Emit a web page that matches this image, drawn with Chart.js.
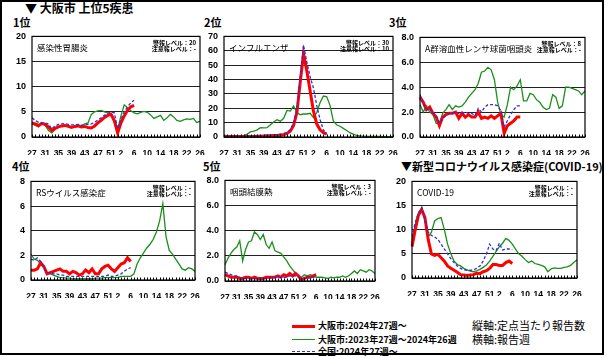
<!DOCTYPE html>
<html><head><meta charset="utf-8">
<script src="https://cdn.jsdelivr.net/npm/chart.js@4.4.1/dist/chart.umd.min.js"></script>
<style>
html,body{margin:0;padding:0;background:#fff;}
#wrap{position:relative;width:606px;height:356px;overflow:hidden;font-family:"Noto Sans CJK JP","Liberation Sans",sans-serif;}
#frame{position:absolute;left:0;top:0;width:600px;height:351px;border:2px solid #000;}
.t{position:absolute;white-space:nowrap;font-weight:bold;color:#000;line-height:1;}
.n{position:absolute;white-space:nowrap;color:#000;line-height:1;}
canvas{position:absolute;}
.lg{position:absolute;}
</style></head><body>
<div id="wrap">
<div id="frame"></div>
<div class="t" style="left:25px;top:2px;font-size:12px;">▼ 大阪市 上位5疾患</div>
<div class="t" style="left:13px;top:17px;font-size:11px;">1位</div>
<div class="t" style="left:204px;top:17px;font-size:11px;">2位</div>
<div class="t" style="left:389px;top:17px;font-size:11px;">3位</div>
<div class="t" style="left:12px;top:161px;font-size:11px;">4位</div>
<div class="t" style="left:203px;top:161px;font-size:11px;">5位</div>
<div class="t" style="left:401px;top:161px;font-size:11px;">▼新型コロナウイルス感染症(COVID-19)</div>

<div class="lg" style="left:292px;top:325px;width:23px;height:2.5px;background:#ff0000;"></div>
<div class="lg" style="left:292px;top:339px;width:23px;height:0;border-top:1.3px solid #1a8f1a;"></div>
<div class="lg" style="left:292px;top:351px;width:23px;height:0;border-top:1.3px dashed #2f2fd8;"></div>
<div class="t" style="left:318px;top:321px;font-size:9px;">大阪市:2024年27週～</div>
<div class="t" style="left:318px;top:335px;font-size:9px;">大阪市:2023年27週～2024年26週</div>
<div class="t" style="left:318px;top:347px;font-size:9px;">全国:2024年27週～</div>
<div class="n" style="left:472px;top:320px;font-size:11px;">縦軸:定点当たり報告数</div>
<div class="n" style="left:472px;top:334px;font-size:11px;">横軸:報告週</div>
</div>
<script>
const weeks = [27,28,29,30,31,32,33,34,35,36,37,38,39,40,41,42,43,44,45,46,47,48,49,50,51,52,
               1,2,3,4,5,6,7,8,9,10,11,12,13,14,15,16,17,18,19,20,21,22,23,24,25,26];
const shownWeeks = [27,31,35,39,43,47,51,2,6,10,14,18,22,26];

const gastroRed   = [2.8,2.6,2.3,2.7,2.5,2.0,1.3,1.7,2.0,2.2,2.3,2.1,1.9,2.1,2.2,2.0,2.1,1.9,1.8,2.2,2.8,3.3,3.9,4.3,4.5,3.2,0.8,2.8,4.2,5.3,6.0,6.3];
const gastroBlue  = [3.8,3.3,2.9,2.8,2.8,2.6,1.6,2.2,2.5,2.6,2.7,2.5,2.4,2.4,2.5,2.3,2.5,2.5,2.6,2.9,3.4,3.8,4.3,4.7,5.0,4.8,1.6,3.5,5.0,6.0,6.8,7.3];
const gastroGreen = [2.6,2.3,2.0,2.7,2.3,1.3,0.8,1.5,2.0,2.1,2.3,2.2,2.0,2.1,2.4,2.2,2.6,2.8,4.5,5.0,5.2,5.3,5.0,4.8,4.7,3.5,1.5,4.2,6.4,5.8,5.2,4.8,4.6,4.9,5.1,4.9,4.4,3.7,4.0,4.3,3.3,3.8,4.5,4.0,3.3,3.1,3.4,3.6,3.5,3.7,2.9,3.1];

const fluRed   = [0.5,0.4,0.4,0.4,0.3,0.3,0.3,0.3,0.4,0.4,0.5,0.6,0.7,0.8,0.9,1.0,1.1,1.3,1.5,2.5,4.0,8.0,17,38,58,46,32,18,9,5,3,2];
const fluBlue  = [0.7,0.6,0.6,0.6,0.6,0.6,0.6,0.6,0.7,0.7,0.8,0.9,1.0,1.1,1.2,1.4,1.6,2.0,2.4,3.2,5.0,10,20,42,64,52,42,34,22,12,5,2];
const fluGreen = [0.5,0.5,0.5,0.6,0.6,0.8,1.0,2.0,3.5,4.0,5.0,6.5,6.3,6.5,8.5,10.5,12.0,11.0,13.0,18.5,18.0,21.5,17.0,15.5,16.0,16.0,16.5,13.5,17.0,24.0,28.5,28.0,22.0,11.0,8.5,7.5,6.0,4.5,3.0,2.0,1.2,0.8,0.6,0.5,0.5,0.4,0.4,0.4,0.3,0.3,0.3,0.3];

const strepRed   = [3.2,2.8,2.2,2.4,1.9,1.6,0.9,1.6,1.8,1.9,1.9,2.0,1.5,1.9,1.6,1.8,1.6,1.6,2.0,1.5,1.6,1.5,1.7,1.5,1.7,1.9,0.3,0.9,1.1,1.3,1.6,1.6];
const strepBlue  = [3.4,2.6,2.2,2.3,1.9,1.7,1.1,1.5,1.7,1.9,1.9,2.0,1.9,1.9,2.0,1.9,1.9,1.7,2.3,2.0,2.4,2.6,2.6,2.6,2.5,2.1,0.8,1.3,1.8,2.2,2.5,2.5];
const strepGreen = [2.6,2.0,2.5,2.0,1.8,1.1,1.1,1.9,2.2,2.6,2.2,2.5,2.4,2.5,2.8,3.2,3.5,3.8,4.3,5.2,5.3,5.6,5.4,4.6,2.8,1.8,1.6,2.6,4.0,3.8,4.1,4.6,2.9,2.9,3.5,3.4,3.0,2.8,2.4,2.2,2.3,3.4,3.2,2.3,2.5,4.0,4.0,3.9,3.8,3.7,3.4,3.7];

const rsvRed   = [0.8,0.8,0.9,1.4,1.1,0.5,0.6,0.7,0.8,0.9,0.7,0.7,0.5,0.7,0.6,0.4,0.5,0.8,0.6,0.9,0.5,0.5,0.9,1.1,1.2,0.9,0.7,1.0,1.3,1.4,1.8,1.5];
const rsvBlue  = [1.7,1.6,1.8,1.5,1.0,0.6,0.6,0.5,0.5,0.4,0.4,0.3,0.3,0.3,0.3,0.3,0.3,0.3,0.3,0.3,0.3,0.3,0.3,0.3,0.4,0.3,0.3,0.4,0.5,0.7,0.9,1.0];
const rsvGreen = [2.1,1.7,1.6,1.3,1.0,0.6,0.5,0.4,0.3,0.2,0.2,0.15,0.15,0.1,0.1,0.1,0.1,0.1,0.1,0.1,0.15,0.15,0.15,0.2,0.2,0.2,0.2,0.2,0.3,0.3,0.3,0.3,0.5,1.3,1.8,2.2,2.6,2.9,3.3,3.9,4.8,6.2,3.5,2.4,2.1,1.7,1.3,0.9,0.8,1.0,0.9,0.7];

const pcfRed   = [0.5,0.4,0.3,0.3,0.3,0.2,0.2,0.3,0.3,0.2,0.3,0.2,0.2,0.2,0.3,0.3,0.3,0.3,0.4,0.3,0.5,0.4,0.6,0.4,0.6,0.4,0.1,0.2,0.3,0.3,0.4,0.5];
const pcfBlue  = [0.7,0.6,0.5,0.4,0.4,0.3,0.2,0.2,0.2,0.2,0.2,0.2,0.2,0.2,0.2,0.2,0.3,0.3,0.3,0.3,0.3,0.3,0.4,0.4,0.4,0.3,0.2,0.2,0.3,0.3,0.3,0.4];
const pcfGreen = [1.3,1.8,2.2,2.5,2.7,3.2,1.6,2.5,3.1,3.2,3.9,3.7,3.3,3.7,2.9,2.6,3.1,2.4,2.3,2.2,1.9,1.6,1.2,0.9,0.6,0.3,0.3,0.5,0.4,0.5,0.4,0.3,0.3,0.3,0.25,0.2,0.3,0.25,0.3,0.3,0.4,0.3,0.4,0.6,0.8,0.6,0.9,0.8,0.7,0.9,0.8,0.6];

const covRed   = [6.5,10,13.0,14.2,12.5,8.0,5.0,4.7,4.9,4.2,3.5,2.5,2.0,1.6,1.2,0.7,0.6,0.5,0.6,0.7,1.0,0.9,1.3,1.5,2.0,2.8,2.8,2.6,2.6,3.2,3.5,3.0];
const covBlue  = [8.5,11.5,13.5,14.6,12.0,9.5,8.8,8.5,8.0,7.0,6.0,5.0,4.0,3.2,2.5,2.0,1.7,1.6,1.6,1.7,2.0,2.5,3.5,5.0,7.0,6.0,5.7,7.2,5.8,6.0,6.0,5.9];
const covGreen = [8.0,11.0,13.5,14.5,12.0,8.5,9.5,11.8,12.3,12.5,10.0,7.0,5.0,3.5,2.8,2.5,2.0,1.7,1.4,1.3,1.5,1.8,2.2,2.7,3.5,4.5,5.5,6.5,7.2,8.2,7.8,7.0,6.0,5.0,4.5,3.8,3.2,3.5,3.0,2.8,2.6,2.3,1.3,1.9,2.1,2.0,2.0,2.2,2.3,2.6,3.2,3.8];

const RED = '#ff0000', GREEN = '#1a8f1a', BLUE = '#2f2fd8';

const decor = {
  id: 'decor',
  afterDraw(chart, args, o) {
    const {ctx, chartArea: a, scales: {x}} = chart;
    ctx.save();
    ctx.strokeStyle = '#000';
    ctx.lineWidth = 1;
    ctx.beginPath();
    for (let i = 0; i < chart.data.labels.length; i++) {
      const px = Math.round(x.getPixelForValue(i)) + 0.5;
      ctx.moveTo(px, a.bottom);
      ctx.lineTo(px, a.bottom - 2.5);
    }
    ctx.stroke();
    ctx.lineWidth = 1.2;
    ctx.strokeRect(a.left, a.top, a.right - a.left, a.bottom - a.top);
    ctx.fillStyle = '#000';
    ctx.textBaseline = 'middle';
    ctx.textAlign = 'left';
    ctx.font = '8.5px "Noto Sans CJK JP"';
    ctx.fillText(o.name, a.left + 5, a.top + 11);
    ctx.textAlign = 'right';
    ctx.font = 'bold 6px "Noto Sans CJK JP"';
    ctx.fillText(o.alarm, a.right - 4, a.top + 6);
    ctx.fillText(o.caution, a.right - 4, a.top + 12);
    ctx.restore();
  }
};

function makePanel(box, yMax, yStep, dec, red, green, blue, name, alarm, caution) {
  const [L, T, R, B] = box;
  const c = document.createElement('canvas');
  c.width = R - L + 40; c.height = B - T + 26;
  c.style.left = (L - 30) + 'px'; c.style.top = (T - 8) + 'px';
  document.getElementById('wrap').appendChild(c);
  new Chart(c, {
    type: 'line',
    data: {
      labels: weeks,
      datasets: [
        {data: blue, borderColor: BLUE, borderWidth: 1.3, borderDash: [3, 2], order: 0},
        {data: red, borderColor: RED, borderWidth: 3, order: 1},
        {data: green, borderColor: GREEN, borderWidth: 1.3, order: 2}
      ]
    },
    options: {
      responsive: false, animation: false, devicePixelRatio: 1,
      layout: {padding: {left: 0, top: 8, right: 10, bottom: 0}},
      elements: {point: {radius: 0}, line: {tension: 0}},
      plugins: {legend: {display: false}, tooltip: {enabled: false},
        decor: {name, alarm, caution}},
      scales: {
        x: {
          type: 'category', offset: false,
          grid: {display: false}, border: {display: false},
          afterFit(s) { s.height = 18; },
          ticks: {autoSkip: false, maxRotation: 0, minRotation: 0, padding: 4, color: '#000',
            font: {family: 'Liberation Sans', size: 8.5, weight: 'bold'},
            callback(v, i) { return shownWeeks.includes(weeks[i]) ? String(weeks[i]) : ''; }}
        },
        y: {
          min: 0, max: yMax,
          grid: {color: '#222', lineWidth: 1, drawTicks: false},
          border: {display: false},
          afterFit(s) { s.width = 30; },
          ticks: {stepSize: yStep, padding: 6, color: '#000',
            font: {family: 'Liberation Sans', size: 9, weight: 'bold'},
            callback(v) { return Number(v).toFixed(dec); }}
        }
      }
    },
    plugins: [decor]
  });
}

makePanel([32, 33, 200, 137], 20, 5, 0, gastroRed, gastroGreen, gastroBlue, '感染性胃腸炎', '警報レベル：20', '注意報レベル：-');
makePanel([224, 33, 393, 137], 70, 10, 0, fluRed, fluGreen, fluBlue, 'インフルエンザ', '警報レベル：30', '注意報レベル：10');
makePanel([420, 34, 585, 137], 8, 2, 1, strepRed, strepGreen, strepBlue, 'A群溶血性レンサ球菌咽頭炎', '警報レベル：8', '注意報レベル：-');
makePanel([31, 178, 195, 280], 8, 2, 0, rsvRed, rsvGreen, rsvBlue, 'RSウイルス感染症', '警報レベル：-', '注意報レベル：-');
makePanel([225, 177, 375, 281], 8, 2, 1, pcfRed, pcfGreen, pcfBlue, '咽頭結膜熱', '警報レベル：3', '注意報レベル：-');
makePanel([412, 178, 577, 278], 20, 5, 0, covRed, covGreen, covBlue, 'COVID-19', '警報レベル：-', '注意報レベル：-');
</script>
</body></html>
